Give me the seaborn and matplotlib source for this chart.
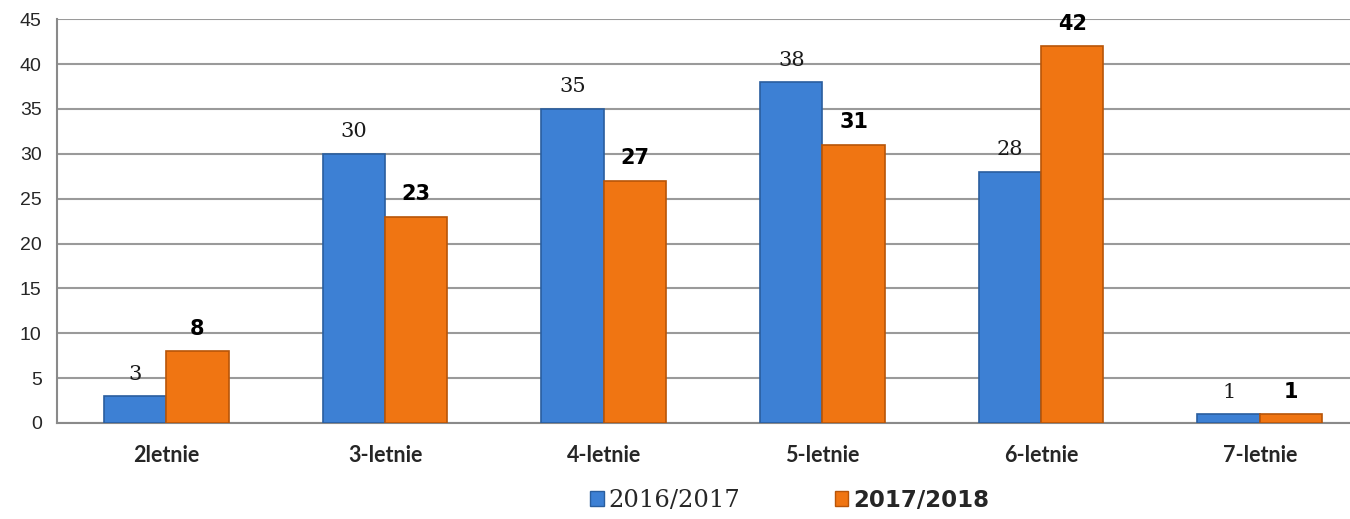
import matplotlib.pyplot as plt
import seaborn as sns
import pandas as pd

categories = ["2letnie", "3-letnie", "4-letnie", "5-letnie", "6-letnie", "7-letnie"]
series = ["2016/2017", "2017/2018"]
vals_2016 = [3, 30, 35, 38, 28, 1]
vals_2017 = [8, 23, 27, 31, 42, 1]
yticks = [0, 5, 10, 15, 20, 25, 30, 35, 40, 45]

df = pd.DataFrame({
    "cat": categories * 2,
    "year": [series[0]] * 6 + [series[1]] * 6,
    "val": vals_2016 + vals_2017,
})

sns.set_style("white")
fig = plt.figure(figsize=(13.5, 5.19), dpi=100)
# the plot area runs past the right edge of the picture, as in the original
ax = fig.add_axes([0.0422, 0.185, 0.972, 0.778])

colors = {"2016/2017": "#3d80d4", "2017/2018": "#f07512"}
edges = {"2016/2017": "#2a5e9e", "2017/2018": "#b85508"}
sns.barplot(data=df, x="cat", y="val", hue="year", palette=colors,
            saturation=1, width=0.57, gap=0, ax=ax, legend=False, zorder=3)

for cont, s in zip(ax.containers, series):
    for p in cont.patches:
        p.set_edgecolor(edges[s])
        p.set_linewidth(1.2)
    if s == series[0]:
        ax.bar_label(cont, padding=9, fontsize=15, family="DejaVu Serif",
                     color="#1a1a1a")
    else:
        ax.bar_label(cont, padding=9, fontsize=15, fontweight="bold",
                     family="DejaVu Sans", color="black")

ax.set_ylim(0, 45)
ax.set_yticks(yticks)
ax.set_xlim(-0.5, 5.5)
ax.yaxis.grid(True, color="#9a9a9a", linewidth=1.5, zorder=0)
ax.set_axisbelow(True)
for side in ["top", "right"]:
    ax.spines[side].set_visible(False)
ax.spines["left"].set_color("#8a8a8a")
ax.spines["left"].set_linewidth(1.5)
ax.spines["bottom"].set_color("#8a8a8a")
ax.spines["bottom"].set_linewidth(1.5)

ax.set_xlabel("")
ax.set_ylabel("")
ax.tick_params(axis="y", length=7, width=1.5, color="#8a8a8a", labelsize=14,
               pad=4)
ax.tick_params(axis="x", length=0, pad=16)
ax.set_xticks(range(6))
ax.set_xticklabels(categories, fontsize=15.5, fontweight="bold", family="Lato")
for lab in ax.get_yticklabels():
    lab.set_family("Liberation Sans")
ax.set_xticks([i + 0.5 for i in range(-1, 6)], minor=True)
ax.tick_params(axis="x", which="minor", length=7, width=1.5, color="#8a8a8a")

handles = [plt.Rectangle((0, 0), 1, 1, facecolor=colors[s], edgecolor=edges[s])
           for s in series]
leg = fig.legend(handles, series, loc="center", bbox_to_anchor=(0.585, 0.036),
                 ncol=2, frameon=False, handlelength=0.55, handleheight=0.55,
                 handletextpad=0.2, columnspacing=3.9,
                 prop={"family": "DejaVu Serif", "size": 17.5})
t2 = leg.get_texts()[1]
t2.set_fontweight("bold")
t2.set_family("DejaVu Sans")
t2.set_fontsize(16.5)

fig.savefig("out.png", dpi=100)
